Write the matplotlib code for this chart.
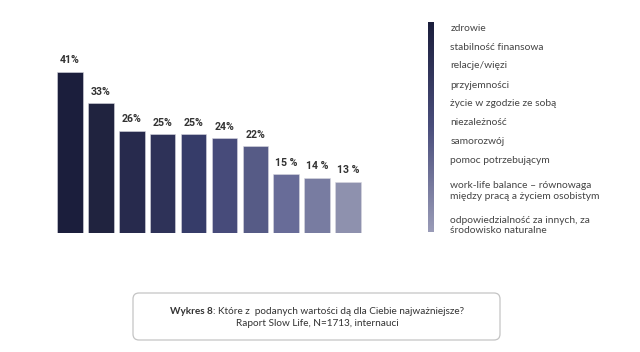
import numpy as np
import matplotlib
matplotlib.use("Agg")
import matplotlib.pyplot as plt
from matplotlib.colors import LinearSegmentedColormap
from matplotlib.patches import FancyBboxPatch

kategorie = ["zdrowie", "stabilność finansowa", "relacje/więzi", "przyjemności",
             "życie w zgodzie ze sobą", "niezależność", "samorozwój",
             "pomoc potrzebującym",
             "work-life balance – równowaga\nmiędzy pracą a życiem osobistym",
             "odpowiedzialność za innych, za\nśrodowisko naturalne"]
wartosci = [41, 33, 26, 25, 25, 24, 22, 15, 14, 13]
etykiety = ["41%", "33%", "26%", "25%", "25%", "24%", "22%", "15 %", "14 %", "13 %"]
kolory = ["#1b1e3c", "#20233f", "#272a4d", "#2e3258", "#363c69", "#474b7a",
          "#565b86", "#686c98", "#787ca1", "#8e91ae"]

W, H = 640, 352
fig = plt.figure(figsize=(W / 100, H / 100), dpi=100)
fig.patch.set_facecolor("white")

# bars
ax = fig.add_axes([54.5 / W, (H - 232.7) / H, 309 / W, 196.5 / H])
x = np.arange(len(wartosci))
bars = ax.bar(x, wartosci, width=0.83, color=kolory, edgecolor="#d8d8e0", linewidth=0.4)
ax.set_xlim(-0.5, len(wartosci) - 0.5)
ax.set_ylim(0, 50)
ax.axis("off")
for xi, v, t in zip(x, wartosci, etykiety):
    ax.annotate(t, (xi, v), xytext=(0, 4.5), textcoords="offset points",
                ha="center", va="bottom", fontsize=7.6, fontweight="bold",
                color="#333333", family="Roboto")

# overlay in pixel coords
ov = fig.add_axes([0, 0, 1, 1])
ov.set_xlim(0, W)
ov.set_ylim(H, 0)
ov.axis("off")

cmap = LinearSegmentedColormap.from_list("g", ["#1b1e3c", "#4a4e7c", "#9a9cb8"])
grad = np.linspace(0, 1, 256).reshape(-1, 1)
ov.imshow(grad, cmap=cmap, aspect="auto", extent=[428.3, 434, 232.5, 23.3], zorder=2)

ys = [28.3, 47.3, 66, 85, 104, 122.7, 141.7, 160.7, 191, 225.5]
for lab, yy in zip(kategorie, ys):
    ov.text(450.5, yy, lab, ha="left", va="center", fontsize=7.4, color="#444444",
            family="Lato", linespacing=1.15)

# caption box
box = FancyBboxPatch((133, 293), 367, 47, boxstyle="round,pad=0,rounding_size=6",
                     facecolor="white", edgecolor="#c4c4c4", linewidth=0.9)
ov.add_patch(box)

fig.canvas.draw()
r = fig.canvas.get_renderer()
t1 = ov.text(0, 311, "Wykres 8", fontsize=7.2, fontweight="bold", color="#333333",
             family="Lato", va="center", ha="left")
t2 = ov.text(0, 311, ": Które z  podanych wartości dą dla Ciebie najważniejsze?",
             fontsize=7.2, color="#333333", family="Lato", va="center", ha="left")
w1 = t1.get_window_extent(r).width
w2 = t2.get_window_extent(r).width
x0 = 317 - (w1 + w2) / 2
t1.set_x(x0)
t2.set_x(x0 + w1)
ov.text(317, 323.5, "Raport Slow Life, N=1713, internauci", fontsize=7.2,
        color="#333333", family="Lato", va="center", ha="center")

fig.savefig("out.png", dpi=100)
